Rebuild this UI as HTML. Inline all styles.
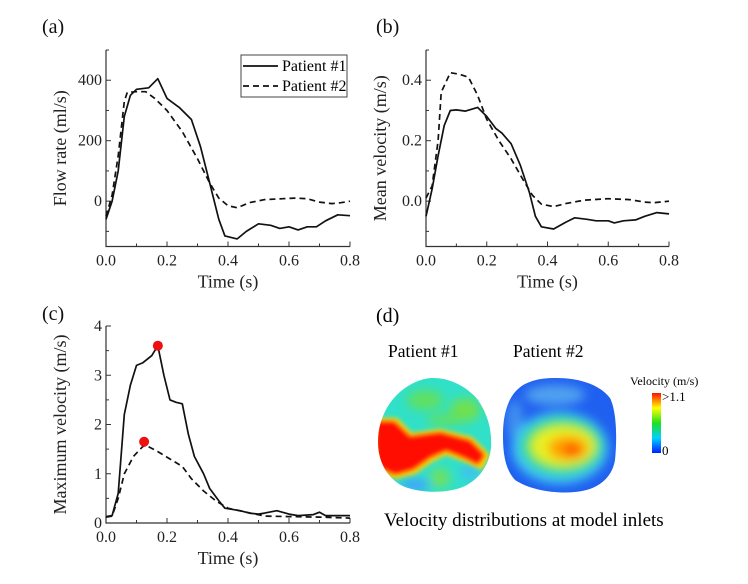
<!DOCTYPE html>
<html><head><meta charset="utf-8"><style>
body{margin:0;background:#fff}
svg{display:block;font-family:"Liberation Serif",serif}
</style></head><body>
<svg id="fig" width="748" height="584" viewBox="0 0 748 584">
<defs>
<filter id="bl" x="-20%" y="-20%" width="140%" height="140%"><feGaussianBlur stdDeviation="5"/></filter>
<filter id="bl2" x="-20%" y="-20%" width="140%" height="140%"><feGaussianBlur stdDeviation="2.5"/></filter>
<clipPath id="c1"><path d="M433,378 C452,378 468,388 478,400 C488,415 492,430 491,448 C489,465 480,478 465,486 C450,493 425,494 405,487 C388,480 378,462 378,442 C378,420 388,400 405,388 C415,381 425,378 433,378Z"/></clipPath>
<clipPath id="c2"><path d="M557,378 C580,378 600,385 610,398 C617,412 617,440 615,460 C612,478 598,490 575,492 C555,494 530,490 515,480 C504,468 503,450 503,435 C503,410 510,392 525,384 C535,379 545,378 557,378Z"/></clipPath>
<linearGradient id="cb" x1="0" y1="1" x2="0" y2="0">
<stop offset="0" stop-color="#0020ff"/><stop offset="0.25" stop-color="#00d0ff"/><stop offset="0.5" stop-color="#20e020"/><stop offset="0.75" stop-color="#ffff00"/><stop offset="1" stop-color="#ff1000"/></linearGradient>
</defs>
<g id="charts"></g>
<g>
<text x="376" y="322" font-size="20">(d)</text>
<text x="388" y="357" font-size="17.5">Patient #1</text>
<text x="513" y="357" font-size="17.5">Patient #2</text>
<g clip-path="url(#c1)">
<rect x="370" y="370" width="130" height="130" fill="#30e0c8"/>
<g filter="url(#bl)">
<ellipse cx="425" cy="400" rx="18" ry="10" fill="#60e060"/>
<ellipse cx="465" cy="410" rx="15" ry="12" fill="#70e050"/>
<ellipse cx="445" cy="420" rx="18" ry="6" fill="#60e060"/>
<ellipse cx="440" cy="478" rx="10" ry="10" fill="#70e060"/>
<ellipse cx="415" cy="485" rx="15" ry="6" fill="#40a0ff"/>
<ellipse cx="470" cy="472" rx="10" ry="8" fill="#40c0f0"/>
</g>
<path filter="url(#bl2)" d="M376,418 L397,418 L412,433 L440,429 L472,437 L490,455 L482,470 L465,462 L446,455 L432,462 L415,474 L395,479 L376,470Z" fill="#ffd000"/>
<path filter="url(#bl2)" d="M376,422 L394,422 L410,437 L440,433 L470,441 L484,455 L478,464 L464,457 L446,450 L430,457 L413,469 L395,474 L376,466Z" fill="#ff1000"/>
</g>
<g clip-path="url(#c2)">
<rect x="500" y="370" width="120" height="130" fill="#2060f0"/>
<g filter="url(#bl)">
<ellipse cx="555" cy="395" rx="30" ry="10" fill="#50a0f0"/>
<ellipse cx="515" cy="420" rx="8" ry="20" fill="#4090f0"/>
<ellipse cx="560" cy="448" rx="48" ry="36" fill="#40c8f0"/>
<ellipse cx="562" cy="446" rx="40" ry="28" fill="#30e060"/>
<ellipse cx="563" cy="446" rx="32" ry="20" fill="#e8f020"/>
<ellipse cx="568" cy="448" rx="20" ry="12" fill="#ffa000"/>
<ellipse cx="572" cy="450" rx="9" ry="6" fill="#ff5000"/>
</g>
</g>
<text x="630" y="385" font-size="12">Velocity (m/s)</text>
<rect x="652" y="393" width="9" height="60" fill="url(#cb)"/>
<text x="662" y="401" font-size="13">&gt;1.1</text>
<text x="662" y="455" font-size="13">0</text>
<text x="384" y="526" font-size="19">Velocity distributions at model inlets</text>
</g>
</svg>
<script>
const timesA1=[0,0.02,0.04,0.06,0.08,0.1,0.14,0.17,0.2,0.24,0.28,0.31,0.34,0.37,0.39,0.43,0.46,0.5,0.54,0.57,0.6,0.63,0.66,0.69,0.72,0.76,0.8];
const flowP1=[-60,0,100,280,350,370,375,405,340,310,270,180,60,-60,-115,-125,-100,-75,-80,-90,-85,-95,-85,-85,-65,-45,-48];
const timesA2=[0,0.02,0.04,0.06,0.07,0.1,0.13,0.16,0.2,0.25,0.3,0.34,0.37,0.4,0.43,0.47,0.52,0.58,0.62,0.66,0.7,0.74,0.77,0.8];
const flowP2=[-50,20,150,330,360,362,362,340,300,230,140,60,10,-15,-22,-5,5,8,10,8,-3,-8,-5,0];
const timesB1=[0,0.02,0.04,0.06,0.08,0.1,0.13,0.17,0.2,0.23,0.25,0.28,0.31,0.34,0.36,0.38,0.42,0.46,0.49,0.53,0.56,0.6,0.62,0.65,0.69,0.72,0.76,0.8];
const meanP1=[-0.05,0.04,0.15,0.25,0.3,0.302,0.298,0.31,0.28,0.24,0.225,0.19,0.12,0.03,-0.05,-0.085,-0.092,-0.07,-0.055,-0.06,-0.065,-0.065,-0.072,-0.065,-0.062,-0.05,-0.038,-0.042];
const timesB2=[0,0.02,0.04,0.05,0.08,0.11,0.14,0.17,0.2,0.24,0.28,0.32,0.35,0.38,0.42,0.46,0.52,0.6,0.67,0.72,0.75,0.8];
const meanP2=[0.01,0.05,0.2,0.36,0.425,0.42,0.41,0.35,0.27,0.2,0.14,0.07,0.02,-0.01,-0.018,-0.008,0.003,0.008,0.005,-0.003,-0.005,0];
const timesC1=[0,0.02,0.04,0.06,0.08,0.1,0.12,0.15,0.17,0.19,0.21,0.23,0.25,0.27,0.29,0.32,0.34,0.37,0.39,0.44,0.47,0.5,0.52,0.56,0.6,0.63,0.68,0.7,0.72,0.8];
const maxP1=[0.13,0.15,0.6,2.2,2.8,3.2,3.25,3.4,3.6,3.0,2.5,2.45,2.42,1.8,1.35,1.0,0.7,0.45,0.3,0.25,0.2,0.18,0.2,0.25,0.18,0.15,0.17,0.22,0.15,0.15];
const timesC2=[0,0.02,0.04,0.06,0.09,0.12,0.13,0.17,0.21,0.25,0.28,0.32,0.36,0.4,0.46,0.52,0.6,0.7,0.8];
const maxP2=[0.12,0.14,0.5,1.0,1.35,1.55,1.58,1.45,1.3,1.15,0.9,0.65,0.45,0.3,0.22,0.14,0.13,0.12,0.1];
const peakTimes=[0.17,0.125];
const peakValues=[3.6,1.65];
const xTicks=["0.0","0.2","0.4","0.6","0.8"];
const yTicksA=[0,200,400];
const yTicksB=[0.0,0.2,0.4];
const yTicksC=[0,1,2,3,4];
const NS="http://www.w3.org/2000/svg";
const root=document.getElementById('charts');
function mk(tag,attrs,parent){const e=document.createElementNS(NS,tag);for(const k in attrs)e.setAttribute(k,attrs[k]);(parent||root).appendChild(e);return e;}
function panel(o){
 const g=mk('g',{});
 
 
 const sx=v=>o.x0+(v-0)/0.8*(o.x1-o.x0);
 const sy=v=>o.y0-(v-o.ymin)/(o.ymax-o.ymin)*(o.y0-o.y1);
 const ax=mk('path',{d:`M${o.x0},${o.y1} V${o.y0} H${o.x1}`,fill:'none',stroke:'#333','stroke-width':1.2},g);
 
 
 for(let i=0;i<=8;i++){const v=i*0.1,x=sx(v);const L=i%2?3:5;mk('line',{x1:x,x2:x,y1:o.y0,y2:o.y0-L,stroke:'#333','stroke-width':1},g);}
 xTicks.forEach(t=>{const tx=mk('text',{x:sx(parseFloat(t)),y:o.y0+19,'font-size':16,'text-anchor':'middle',fill:'#222'},g);tx.textContent=t;
  
  });
 for(let v=o.minorStart;v<=o.ymax+1e-9;v+=o.minorStep){const y=sy(v);const maj=o.yt.some(t=>Math.abs(t-v)<1e-9);mk('line',{x1:o.x0,x2:o.x0+(maj?5:3),y1:y,y2:y,stroke:'#333','stroke-width':1},g);}
 o.yt.forEach(t=>{const tx=mk('text',{x:o.x0-4,y:sy(t)+5,'font-size':16,'text-anchor':'end',fill:'#222'},g);tx.textContent=o.fmt(t);
  
  });
 const xt=mk('text',{x:(o.x0+o.x1)/2,y:o.y0+41,'font-size':18,'text-anchor':'middle',fill:'#222'},g);xt.textContent='Time (s)';
 
 
 const yt=mk('text',{x:0,y:0,'font-size':18,'text-anchor':'middle',fill:'#222',transform:`translate(${o.x0-40},${(o.y0+o.y1)/2+o.ytOff}) rotate(-90)`},g);yt.textContent=o.ytitle;
 
 
 const pl=mk('text',{x:o.lx,y:o.ly,'font-size':20,fill:'#111'},g);pl.textContent=o.label;
 
 
 o.series.forEach(s=>{
  const d=s.t.map((t,i)=>(i?'L':'M')+sx(t).toFixed(1)+','+sy(s.v[i]).toFixed(1)).join(' ');
  const p=mk('path',{d:d,fill:'none',stroke:'#111','stroke-width':1.7,'stroke-dasharray':s.dash?'6,4':'none','stroke-linejoin':'round'},g);
  
  
 });
 return {g,sx,sy};
}
panel({name:'panel-a-flow-rate',x0:106,x1:350,y0:246.5,y1:50,ymin:-150,ymax:500,yt:yTicksA,minorStart:-100,minorStep:100,fmt:v=>String(v),ytitle:'Flow rate (ml/s)',ytOff:0,label:'(a)',lx:42,ly:33,
 series:[{t:timesA1,v:flowP1,name:'line-patient1-flow'},{t:timesA2,v:flowP2,dash:1,name:'line-patient2-flow'}]});
panel({name:'panel-b-mean-velocity',x0:426,x1:669,y0:246.5,y1:50,ymin:-0.15,ymax:0.5,yt:yTicksB,minorStart:-0.1,minorStep:0.1,fmt:v=>v.toFixed(1),ytitle:'Mean velocity (m/s)',ytOff:0,label:'(b)',lx:376,ly:33,
 series:[{t:timesB1,v:meanP1,name:'line-patient1-mean-velocity'},{t:timesB2,v:meanP2,dash:1,name:'line-patient2-mean-velocity'}]});
const pc=panel({name:'panel-c-max-velocity',x0:106,x1:350,y0:523,y1:326,ymin:0,ymax:4,yt:yTicksC,minorStart:0,minorStep:0.5,fmt:v=>String(v),ytitle:'Maximum velocity (m/s)',ytOff:0,label:'(c)',lx:42,ly:320,
 series:[{t:timesC1,v:maxP1,name:'line-patient1-max-velocity'},{t:timesC2,v:maxP2,dash:1,name:'line-patient2-max-velocity'}]});
peakTimes.forEach((t,i)=>{
 const c=mk('circle',{cx:pc.sx(t),cy:pc.sy(peakValues[i]),r:5,fill:'#ee1010'},pc.g);
 
 
});
const lg=mk('g',{});


mk('rect',{x:241,y:55,width:106,height:42,fill:'#fff',stroke:'#444','stroke-width':1},lg);
mk('line',{x1:243,x2:278,y1:66,y2:66,stroke:'#111','stroke-width':1.7},lg);
mk('line',{x1:243,x2:278,y1:86,y2:86,stroke:'#111','stroke-width':1.7,'stroke-dasharray':'6,4'},lg);
const l1=mk('text',{x:282,y:71,'font-size':16},lg);l1.textContent='Patient #1';


const l2=mk('text',{x:282,y:91,'font-size':16},lg);l2.textContent='Patient #2';


</script>
</body></html>
